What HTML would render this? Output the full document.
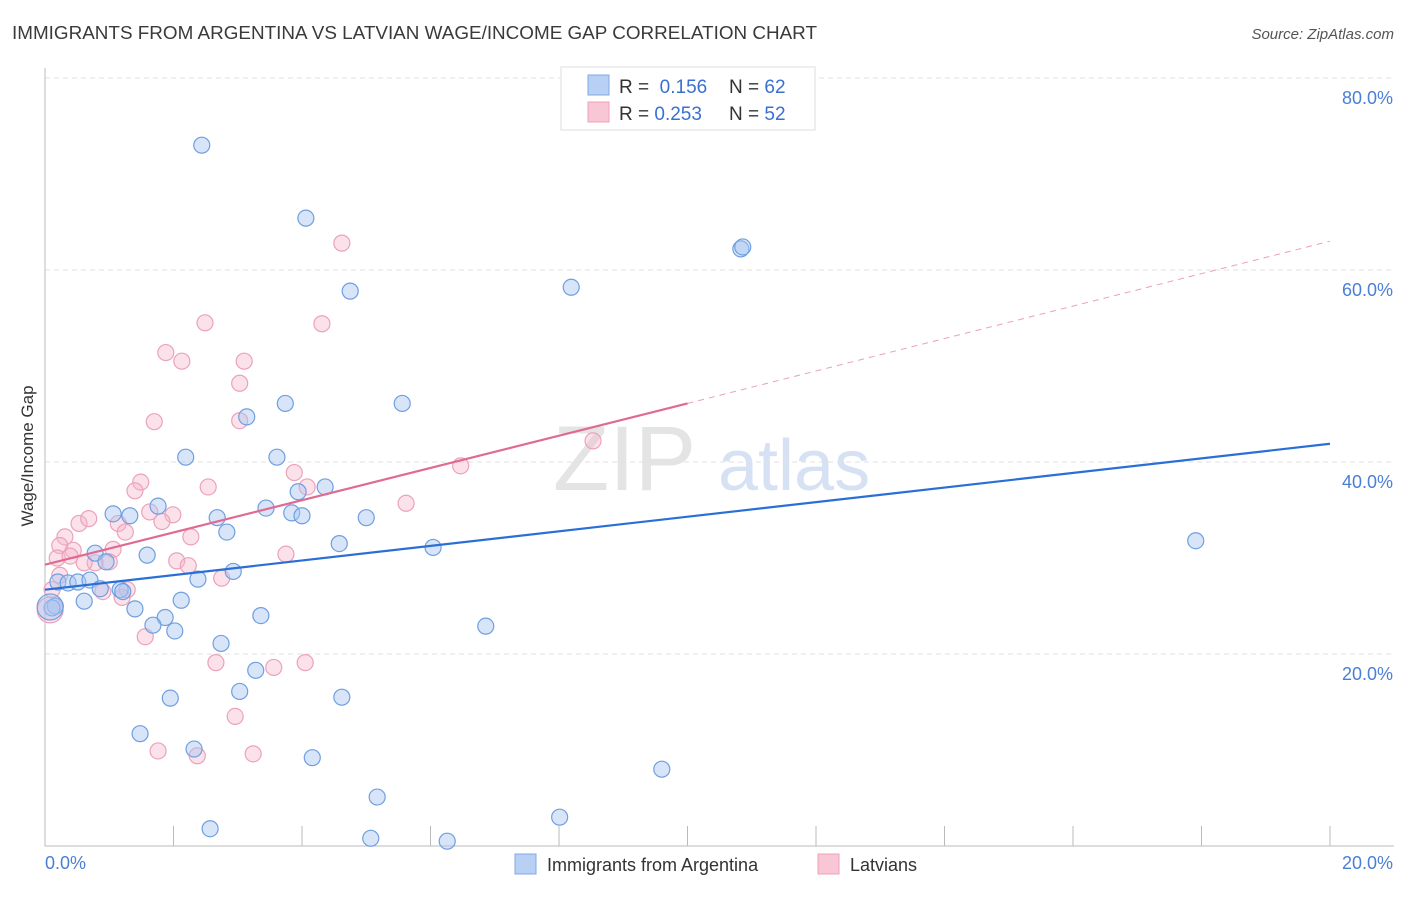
<!DOCTYPE html>
<html><head><meta charset="utf-8"><style>
body{margin:0;background:#fff;font-family:"Liberation Sans",sans-serif;}
svg text{font-family:"Liberation Sans",sans-serif;}
</style></head><body>
<svg id="chart" width="1406" height="892" xmlns="http://www.w3.org/2000/svg">
<text x="12" y="39" font-size="18.5" fill="#3a3a3a" textLength="805" lengthAdjust="spacingAndGlyphs">IMMIGRANTS FROM ARGENTINA VS LATVIAN WAGE/INCOME GAP CORRELATION CHART</text>
<text x="1394" y="39" font-size="15" fill="#555" text-anchor="end" font-style="italic">Source: ZipAtlas.com</text>
<text x="553" y="490" font-size="92" fill="#e4e4e4" font-family="Liberation Serif">ZIP</text>
<text x="718" y="490" font-size="72" fill="#d6e2f4">atlas</text>
<g id="grid"></g>
<g id="axes"></g>
<g id="pts"></g>
<g id="lines"></g>
<text transform="translate(33,456) rotate(-90)" font-size="17" fill="#333" text-anchor="middle">Wage/Income Gap</text>
<text x="45" y="869" font-size="18" fill="#4a7fd4">0.0%</text>
<text x="1393" y="869" font-size="18" fill="#4a7fd4" text-anchor="end">20.0%</text>
<g>
<rect x="561" y="67" width="254" height="63" fill="#fff" stroke="#ddd"/>
<rect x="588" y="75" width="21" height="20" fill="#b8d0f4" stroke="#7fa8e4"/>
<rect x="588" y="102" width="21" height="20" fill="#f9c6d6" stroke="#eea0b8"/>
<text x="619" y="93" font-size="19" fill="#333">R = <tspan fill="#3a70d0">&#160;0.156</tspan></text>
<text x="729" y="93" font-size="19" fill="#333">N = <tspan fill="#3a70d0">62</tspan></text>
<text x="619" y="120" font-size="19" fill="#333">R = <tspan fill="#3a70d0">0.253</tspan></text>
<text x="729" y="120" font-size="19" fill="#333">N = <tspan fill="#3a70d0">52</tspan></text>
</g>
<g>
<rect x="515" y="854" width="21" height="20" fill="#b8d0f4" stroke="#7fa8e4"/>
<text x="547" y="871" font-size="18" fill="#333">Immigrants from Argentina</text>
<rect x="818" y="854" width="21" height="20" fill="#f9c6d6" stroke="#eea0b8"/>
<text x="850" y="871" font-size="18" fill="#333">Latvians</text>
</g>
</svg>
<script>
const yTicks=[20,40,60,80];
const yTickLabels=["20.0%","40.0%","60.0%","80.0%"];
const xTicks=[2,4,6,8,10,12,14,16,18,20];
const blueX=[2.44,4.06,4.75,8.19,10.83,10.86,3.74,5.56,3.14,2.19,3.61,4.36,3.94,1.76,3.44,3.84,4.0,1.06,1.32,2.68,5.0,2.83,4.58,6.04,1.59,0.78,17.91,0.95,2.93,0.2,0.36,0.51,0.7,2.38,0.86,1.17,1.21,0.16,0.11,0.61,2.12,1.4,3.36,1.87,1.68,2.02,6.86,2.74,3.28,3.03,1.95,4.62,1.48,2.32,4.16,9.6,5.17,8.01,2.57,5.07,6.26,0.08];
const blueY=[73.0,65.4,57.8,58.2,62.2,62.4,46.1,46.1,44.7,40.5,40.5,37.4,36.9,35.4,35.2,34.7,34.4,34.6,34.4,34.2,34.2,32.7,31.5,31.1,30.3,30.5,31.8,29.6,28.6,27.5,27.4,27.5,27.7,27.8,26.8,26.7,26.5,25.0,24.8,25.5,25.6,24.7,24.0,23.8,23.0,22.4,22.9,21.1,18.3,16.1,15.4,15.5,11.7,10.1,9.2,8.0,5.1,3.0,1.8,0.8,0.5,24.9];
const pinkX=[4.62,2.49,4.31,1.88,2.13,3.1,3.03,1.7,3.03,8.53,6.47,3.88,1.49,4.08,2.54,1.4,5.62,1.63,1.99,1.82,0.53,0.68,1.14,1.25,0.31,2.27,0.23,0.44,1.06,0.19,0.39,3.75,2.05,1.0,0.78,0.61,2.23,2.75,0.9,1.2,1.56,2.66,3.56,4.05,2.96,1.76,2.37,3.24,0.08,0.11,0.23,1.28];
const pinkY=[62.8,54.5,54.4,51.4,50.5,50.5,48.2,44.2,44.3,42.2,39.6,38.9,37.9,37.4,37.4,37.0,35.7,34.8,34.5,33.8,33.6,34.1,33.6,32.7,32.2,32.2,31.3,30.8,30.9,30.0,30.2,30.4,29.7,29.6,29.5,29.5,29.2,27.9,26.5,25.9,21.8,19.1,18.6,19.1,13.5,9.9,9.4,9.6,24.6,26.7,28.2,26.7];
const blueLine=[[0,26.7],[20,41.9]];
const pinkLine=[[0,29.3],[10,46.1]];
const pinkDash=[[10,46.1],[20,63.0]];

const X0=45,X1=1330,YB=846,PX=9.6;
const sx=v=>X0+(v/20)*(X1-X0);
const sy=v=>YB-v*PX;
const NS="http://www.w3.org/2000/svg";
function mk(tag,parent,attrs){const e=document.createElementNS(NS,tag);for(const k in attrs)e.setAttribute(k,attrs[k]);parent.appendChild(e);return e;}
const grid=document.getElementById('grid'),axes=document.getElementById('axes'),pts=document.getElementById('pts'),lines=document.getElementById('lines');
yTicks.forEach((t,i)=>{
  const l=mk('line',grid,{x1:X0,x2:1394,y1:sy(t),y2:sy(t),stroke:'#e2e2e2','stroke-dasharray':'5,4'});
  
  
  const tx=mk('text',grid,{x:1393,y:sy(t)+26,'font-size':18,fill:'#4a7fd4','text-anchor':'end'});
  tx.textContent=yTickLabels[i];
  
  
});
const ax=mk('path',axes,{d:`M${X0},68V${YB}H1394`,stroke:'#bbb',fill:'none'});


xTicks.forEach(t=>{
  const l=mk('line',axes,{x1:sx(t),x2:sx(t),y1:YB-20,y2:YB,stroke:'#bbb'});
  
  
});
function dots(xs,ys,fill,stroke,name,bigIdx){
  xs.forEach((x,i)=>{
    const big=(i===bigIdx);
    const c=mk('circle',pts,{cx:sx(x),cy:sy(ys[i]),r:big?13:8,fill:fill,stroke:stroke,'stroke-width':1.2});
    
    
  });
}
dots(pinkX,pinkY,'rgba(246,182,202,0.4)','#eba2ba','pink-point',48);
dots(blueX,blueY,'rgba(168,198,242,0.45)','#6f9fe0','blue-point',61);
function ln(p,stroke,w,dash,name){
  const l=mk('line',lines,{x1:sx(p[0][0]),y1:sy(p[0][1]),x2:sx(p[1][0]),y2:sy(p[1][1]),stroke:stroke,'stroke-width':w});
  if(dash)l.setAttribute('stroke-dasharray',dash);
  
  
}
ln(blueLine,'#2a6fd6',2.2,null,'blue-trend-line');
ln(pinkLine,'#e06a92',2.2,null,'pink-trend-line');
ln(pinkDash,'#eaa0b8',1,'6,5','pink-trend-extension');
</script>
</body></html>
